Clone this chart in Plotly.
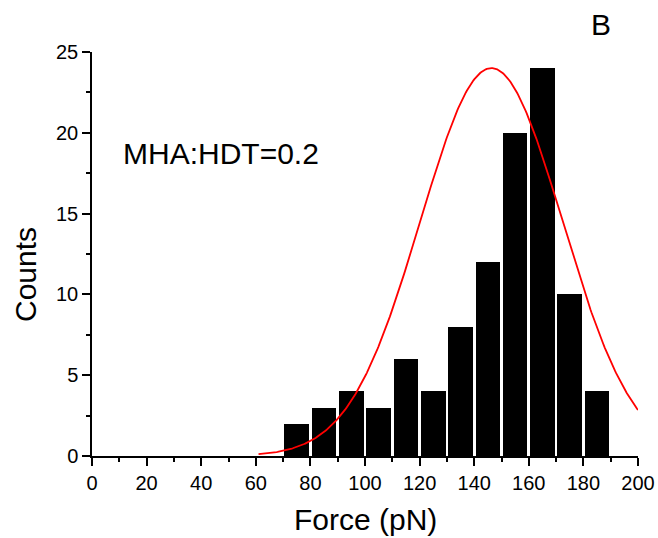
import numpy as np
import plotly.graph_objects as go

# Histogram of rupture forces (bin centres in pN) and counts per bin
bin_centers = [75, 85, 95, 105, 115, 125, 135, 145, 155, 165, 175, 185]
counts = [2, 3, 4, 3, 6, 4, 8, 12, 20, 24, 10, 4]

# Gaussian fit parameters
fit_amplitude = 24.0
fit_center = 146.3
fit_sigma = 26.0
fit_start, fit_end = 61, 200

x_ticks = list(range(0, 201, 20))
y_ticks = list(range(0, 26, 5))

FONT = "Arial, 'Liberation Sans', sans-serif"

W, H = 658, 538
M_L, M_R, M_T, M_B = 92, 20, 52, 82

xf = np.linspace(fit_start, fit_end, 400)
yf = fit_amplitude * np.exp(-((xf - fit_center) ** 2) / (2 * fit_sigma ** 2))

fig = go.Figure()
fig.add_trace(go.Bar(
    x=bin_centers, y=counts, width=9,
    marker=dict(color="black", line=dict(width=0)),
    showlegend=False,
))
fig.add_trace(go.Scatter(
    x=xf, y=yf, mode="lines",
    line=dict(color="#ff0000", width=1.8),
    showlegend=False,
))

axis_common = dict(
    showgrid=False, zeroline=False, showline=True, linecolor="black",
    linewidth=1.5, ticks="outside", ticklen=8, tickwidth=1.5, tickcolor="black",
    tickfont=dict(family=FONT, size=20, color="black"), automargin=False,
)

fig.update_xaxes(
    range=[0, 200], tickvals=x_ticks,
    minor=dict(dtick=10, ticks="outside", ticklen=4, tickwidth=1.5, tickcolor="black"),
    **axis_common,
)
fig.update_yaxes(
    range=[0, 25], tickvals=y_ticks,
    minor=dict(dtick=2.5, ticks="outside", ticklen=4, tickwidth=1.5, tickcolor="black"),
    **axis_common,
)


def px_to_paper(px, py):
    return ((px - M_L) / (W - M_L - M_R), (H - M_B - py) / (H - M_T - M_B))


# Axis titles
tx, ty = px_to_paper(365, 519)
fig.add_annotation(x=tx, y=ty, xref="paper", yref="paper", text="Force (pN)",
                   showarrow=False, xanchor="center", yanchor="middle",
                   font=dict(family=FONT, size=30, color="black"))
cx, cy = px_to_paper(25, 275)
fig.add_annotation(x=cx, y=cy, xref="paper", yref="paper", text="Counts",
                   textangle=-90, showarrow=False, xanchor="center", yanchor="middle",
                   font=dict(family=FONT, size=30, color="black"))

fig.add_annotation(
    x=10.8, y=18.75, xref="x", yref="y", text="MHA:HDT=0.2",
    showarrow=False, xanchor="left", yanchor="middle",
    font=dict(family=FONT, size=30, color="black"),
)
bx, by = px_to_paper(601, 25)
fig.add_annotation(
    x=bx, y=by, xref="paper", yref="paper", text="B",
    showarrow=False, xanchor="center", yanchor="middle",
    font=dict(family=FONT, size=30, color="black"),
)

fig.update_layout(
    width=W, height=H,
    margin=dict(l=M_L, r=M_R, t=M_T, b=M_B),
    plot_bgcolor="white", paper_bgcolor="white",
    bargap=0,
)

fig.write_html("out.html", config={"displayModeBar": False})
